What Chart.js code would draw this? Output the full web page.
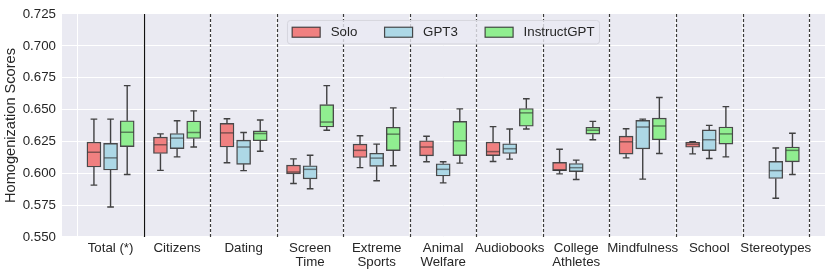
<!DOCTYPE html>
<html>
<head>
<meta charset="utf-8">
<script src="https://cdn.jsdelivr.net/npm/chart.js@4.4.1/dist/chart.umd.min.js"></script>
<style>
  html, body { margin: 0; padding: 0; background: #ffffff; }
  #wrap { width: 830px; height: 276px; }
</style>
</head>
<body>
<div id="wrap"><canvas id="c" width="830" height="276"></canvas></div>
<script>
// ---- data (each entry: [min, q1, median, q3, max]) ----
const categories = ["Total (*)", "Citizens", "Dating", ["Screen", "Time"], ["Extreme", "Sports"],
  ["Animal", "Welfare"], "Audiobooks", ["College", "Athletes"], "Mindfulness", "School", "Stereotypes"];

const seriesNames = ["Solo", "GPT3", "InstructGPT"];

const soloStats = [
  [0.5907, 0.6049, 0.6165, 0.6245, 0.6425],
  [0.6023, 0.6155, 0.6224, 0.6284, 0.6309],
  [0.6083, 0.6206, 0.6317, 0.6392, 0.6428],
  [0.5920, 0.5995, 0.6010, 0.6064, 0.6113],
  [0.6044, 0.6124, 0.6180, 0.6229, 0.6294],
  [0.6090, 0.6137, 0.6206, 0.6255, 0.6291],
  [0.6093, 0.6139, 0.6170, 0.6245, 0.6366],
  [0.5995, 0.6021, 0.6026, 0.6085, 0.6188],
  [0.6121, 0.6150, 0.6247, 0.6291, 0.6350],
  [0.6152, 0.6204, 0.6227, 0.6245, 0.6247],
  null
];

const gpt3Stats = [
  [0.5735, 0.6026, 0.6121, 0.6235, 0.6425],
  [0.6129, 0.6193, 0.6276, 0.6312, 0.6412],
  [0.6021, 0.6070, 0.6206, 0.6260, 0.6320],
  [0.5879, 0.5956, 0.6031, 0.6059, 0.6142],
  [0.5941, 0.6054, 0.6119, 0.6157, 0.6229],
  [0.5925, 0.5979, 0.6031, 0.6075, 0.6090],
  [0.6111, 0.6155, 0.6193, 0.6232, 0.6348],
  [0.5951, 0.6013, 0.6044, 0.6077, 0.6103],
  [0.5954, 0.6191, 0.6363, 0.6415, 0.6425],
  [0.6116, 0.6178, 0.6263, 0.6340, 0.6376],
  [0.5804, 0.5959, 0.6021, 0.6093, 0.6198]
];

const instructStats = [
  [0.5990, 0.6209, 0.6322, 0.6412, 0.6688],
  [0.6206, 0.6273, 0.6320, 0.6410, 0.6490],
  [0.6173, 0.6255, 0.6312, 0.6333, 0.6418],
  [0.6338, 0.6363, 0.6402, 0.6539, 0.6688],
  [0.6059, 0.6178, 0.6307, 0.6361, 0.6513],
  [0.6080, 0.6139, 0.6255, 0.6407, 0.6505],
  [0.6348, 0.6369, 0.6474, 0.6508, 0.6585],
  [0.6263, 0.6307, 0.6338, 0.6361, 0.6407],
  [0.6155, 0.6263, 0.6371, 0.6433, 0.6595],
  [0.6129, 0.6229, 0.6309, 0.6363, 0.6523],
  [0.5990, 0.6090, 0.6180, 0.6206, 0.6314]
];

const yTicks = [0.550, 0.575, 0.600, 0.625, 0.650, 0.675, 0.700, 0.725];

// ---- styling ----
const FONT = '"Liberation Sans", Arial, Helvetica, sans-serif';
const TEXT = '#262626';
const fills = ['#F08080', '#ADD8E6', '#90EE90'];
const offsets = [-0.25, 0, 0.25];
const allStats = [soloStats, gpt3Stats, instructStats];

const datasets = allStats.map((st, k) => ({
  label: seriesNames[k],
  stats: st,
  data: st.map((s, i) => s ? { x: i + offsets[k], y: [s[1], s[3]] } : null).filter(Boolean),
  backgroundColor: fills[k],
  borderColor: 'rgba(45,45,45,0.85)',
  borderWidth: 1.4,
  borderSkipped: false,
  barThickness: 14,
  grouped: false
}));

const bgPlugin = {
  id: 'bg',
  beforeDraw(chart) {
    const { ctx, chartArea: a } = chart;
    ctx.save();
    ctx.fillStyle = '#EAEAF2';
    ctx.fillRect(a.left, a.top, a.right - a.left, a.bottom - a.top);
    ctx.restore();
  }
};

const boxPlugin = {
  id: 'boxparts',
  beforeDatasetsDraw(chart) {
    const { ctx, chartArea: a, scales: { x, y } } = chart;
    ctx.save();
    // category separators
    for (let i = 0; i < categories.length; i++) {
      const px = Math.round(x.getPixelForValue(i + 0.5)) + 0.5;
      ctx.beginPath();
      if (i === 0) {
        ctx.setLineDash([]);
        ctx.strokeStyle = '#111111';
        ctx.lineWidth = 1.2;
      } else {
        ctx.setLineDash([3, 2]);
        ctx.strokeStyle = '#3a3a3a';
        ctx.lineWidth = 1.2;
      }
      ctx.moveTo(px, a.top);
      ctx.lineTo(px, a.bottom);
      ctx.stroke();
    }
    ctx.setLineDash([]);
    // whiskers and caps
    chart.data.datasets.forEach((ds, k) => {
      ds.stats.forEach((s, i) => {
        if (!s) return;
        const cx = x.getPixelForValue(i + offsets[k]);
        const half = (x.getPixelForValue(0.05) - x.getPixelForValue(0));
        ctx.strokeStyle = 'rgba(35,35,35,0.85)';
        ctx.lineWidth = 1.4;
        ctx.beginPath();
        ctx.moveTo(cx, y.getPixelForValue(s[3]));
        ctx.lineTo(cx, y.getPixelForValue(s[4]));
        ctx.moveTo(cx, y.getPixelForValue(s[1]));
        ctx.lineTo(cx, y.getPixelForValue(s[0]));
        ctx.moveTo(cx - half, y.getPixelForValue(s[4]));
        ctx.lineTo(cx + half, y.getPixelForValue(s[4]));
        ctx.moveTo(cx - half, y.getPixelForValue(s[0]));
        ctx.lineTo(cx + half, y.getPixelForValue(s[0]));
        ctx.stroke();
      });
    });
    ctx.restore();
  },
  afterDatasetsDraw(chart) {
    const { ctx, scales: { x, y } } = chart;
    ctx.save();
    chart.data.datasets.forEach((ds, k) => {
      ds.stats.forEach((s, i) => {
        if (!s) return;
        const cx = x.getPixelForValue(i + offsets[k]);
        const half = 6.3;
        const py = y.getPixelForValue(s[2]);
        ctx.strokeStyle = 'rgba(40,40,40,0.55)';
        ctx.lineWidth = 1.5;
        ctx.beginPath();
        ctx.moveTo(cx - half, py);
        ctx.lineTo(cx + half, py);
        ctx.stroke();
      });
    });
    ctx.restore();
  }
};

const legendPlugin = {
  id: 'boxLegend',
  afterDraw(chart) {
    const { ctx, chartArea: a } = chart;
    ctx.save();
    ctx.font = '13.3px ' + FONT;
    const items = chart.data.datasets.map(d => ({ label: d.label, color: d.backgroundColor }));
    const patchW = 28, patchH = 10, gapPT = 10.5, gapItem = 27.3, padL = 4.7, padR = 5;
    const widths = items.map(it => patchW + gapPT + ctx.measureText(it.label).width);
    const total = padL + padR + widths.reduce((p, c) => p + c, 0) + gapItem * (items.length - 1);
    const x0 = (a.left + a.right) / 2 - total / 2;
    const y0 = a.top + 6.5, h = 23.5;
    ctx.beginPath();
    ctx.roundRect(x0, y0, total, h, 3);
    ctx.fillStyle = 'rgba(234,234,242,0.8)';
    ctx.fill();
    ctx.strokeStyle = '#d6d6de';
    ctx.lineWidth = 1;
    ctx.stroke();
    let cx = x0 + padL;
    const cy = y0 + h / 2;
    items.forEach((it, k) => {
      ctx.fillStyle = it.color;
      ctx.fillRect(cx, cy - patchH / 2, patchW, patchH);
      ctx.strokeStyle = 'rgba(45,45,45,0.85)';
      ctx.lineWidth = 1.2;
      ctx.strokeRect(cx, cy - patchH / 2, patchW, patchH);
      ctx.fillStyle = TEXT;
      ctx.textBaseline = 'middle';
      ctx.textAlign = 'left';
      ctx.fillText(it.label, cx + patchW + gapPT, cy + 0.5);
      cx += widths[k] + gapItem;
    });
    ctx.restore();
  }
};

new Chart(document.getElementById('c'), {
  type: 'bar',
  data: { datasets },
  plugins: [bgPlugin, boxPlugin, legendPlugin],
  options: {
    responsive: false,
    animation: false,
    events: [],
    layout: { padding: { left: 0, right: 5, top: 10, bottom: 0 } },
    plugins: { legend: { display: false }, tooltip: { enabled: false } },
    scales: {
      x: {
        type: 'linear',
        min: -0.73,
        max: 10.74,
        offset: false,
        afterBuildTicks(axis) { axis.ticks = categories.map((c, i) => ({ value: i })); },
        afterFit(scale) { scale.height = 39; },
        ticks: {
          autoSkip: false,
          maxRotation: 0,
          minRotation: 0,
          padding: 4,
          color: TEXT,
          font: { family: FONT, size: 13.3, lineHeight: 1.08 },
          callback: (v) => categories[Math.round(v)]
        },
        grid: { color: '#ffffff', lineWidth: 1, drawTicks: false },
        border: { display: false }
      },
      y: {
        min: 0.55,
        max: 0.725,
        afterBuildTicks(axis) { axis.ticks = yTicks.map(v => ({ value: v })); },
        afterFit(scale) { scale.width = 62; },
        ticks: {
          padding: 6,
          color: TEXT,
          font: { family: FONT, size: 13.3 },
          callback: (v) => Number(v).toFixed(3)
        },
        grid: { color: '#ffffff', lineWidth: 1, drawTicks: false },
        border: { display: false },
        title: {
          display: true,
          text: 'Homogenization Scores',
          color: TEXT,
          font: { family: FONT, size: 14.6 },
          padding: { top: 2, bottom: 0 }
        }
      }
    }
  }
});
</script>
</body>
</html>
